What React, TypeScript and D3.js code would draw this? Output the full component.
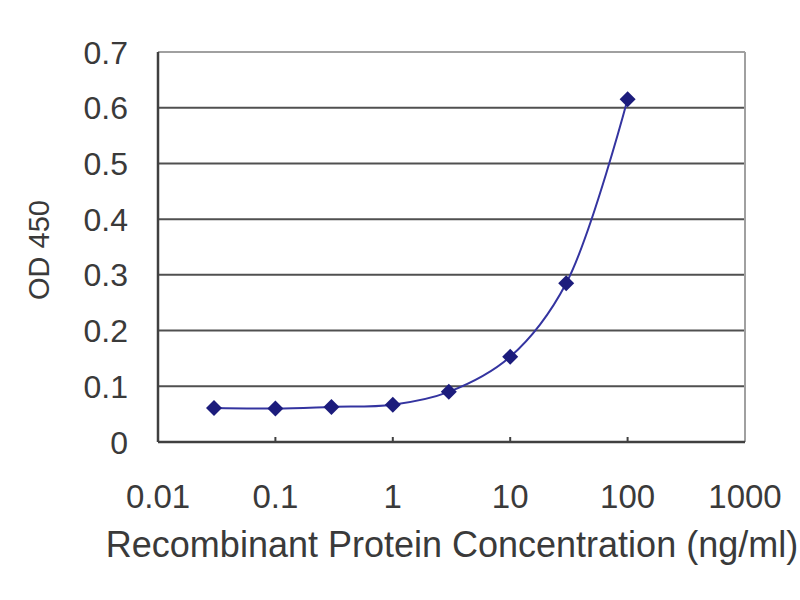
import React from "react";
import * as d3 from "d3";

const concentrations = [0.03, 0.1, 0.3, 1, 3, 10, 30, 100];
const odValues = [0.061, 0.06, 0.063, 0.067, 0.09, 0.153, 0.285, 0.615];
const xTicks = [0.01, 0.1, 1, 10, 100, 1000];
const xTickLabels = ["0.01", "0.1", "1", "10", "100", "1000"];
const yTicks = [0, 0.1, 0.2, 0.3, 0.4, 0.5, 0.6, 0.7];
const yTickLabels = ["0", "0.1", "0.2", "0.3", "0.4", "0.5", "0.6", "0.7"];

export default function App() {
  const W = 800, H = 600;
  const left = 158, right = 745, top = 52, bottom = 442;
  const x = d3.scaleLog().domain([0.01, 1000]).range([left, right]);
  const y = d3.scaleLinear().domain([0, 0.7]).range([bottom, top]);
  const pts: [number, number][] = concentrations.map((c, i) => [x(c), y(odValues[i])]);
  const line = d3.line().curve(d3.curveCatmullRom.alpha(0.5))(pts) || "";
  const font = "'Liberation Sans', Arial, sans-serif";
  const navy = "#1c1c7c";
  const textCol = "#3a3a3a";
  return (
    <svg width={W} height={H} style={{ position: "absolute", left: 0, top: 0, background: "#fff" }}>
      <rect x={0} y={0} width={W} height={H} fill="#fff" />
      {yTicks.filter(t => t > 0 && t < 0.7).map(t => (
        <line key={t} x1={left} x2={right} y1={y(t)} y2={y(t)} stroke="#505050" strokeWidth={2} />
      ))}
      <line x1={left} x2={right} y1={top} y2={top} stroke="#a0a0a0" strokeWidth={2} />
      <line x1={right} x2={right} y1={top} y2={bottom} stroke="#a0a0a0" strokeWidth={2} />
      <line x1={left} x2={left} y1={top} y2={bottom} stroke="#404040" strokeWidth={2.5} />
      <line x1={left} x2={right} y1={bottom} y2={bottom} stroke="#404040" strokeWidth={2.5} />
      {xTicks.slice(1, -1).map(t => (
        <line key={t} x1={x(t)} x2={x(t)} y1={bottom} y2={bottom - 5} stroke="#404040" strokeWidth={2} />
      ))}
      {yTicks.map((t, i) => (
        <text key={t} x={128} y={y(t)} dy="0.36em" textAnchor="end" fontFamily={font} fontSize={32} fill={textCol}>
          {yTickLabels[i]}
        </text>
      ))}
      {xTicks.map((t, i) => (
        <text key={t} x={x(t)} y={508} textAnchor="middle" fontFamily={font} fontSize={33} fill={textCol}>
          {xTickLabels[i]}
        </text>
      ))}
      <text x={452} y={557} textAnchor="middle" fontFamily={font} fontSize={36} fill={textCol}>
        Recombinant Protein Concentration (ng/ml)
      </text>
      <text transform={`translate(49,250) rotate(-90)`} textAnchor="middle" fontFamily={font} fontSize={29} fill={textCol}>
        OD 450
      </text>
      <path d={line} fill="none" stroke="#3434a0" strokeWidth={2} />
      {pts.map(([px, py], i) => (
        <path key={i} d={`M${px},${py - 8}L${px + 8},${py}L${px},${py + 8}L${px - 8},${py}Z`} fill={navy} />
      ))}
    </svg>
  );
}
